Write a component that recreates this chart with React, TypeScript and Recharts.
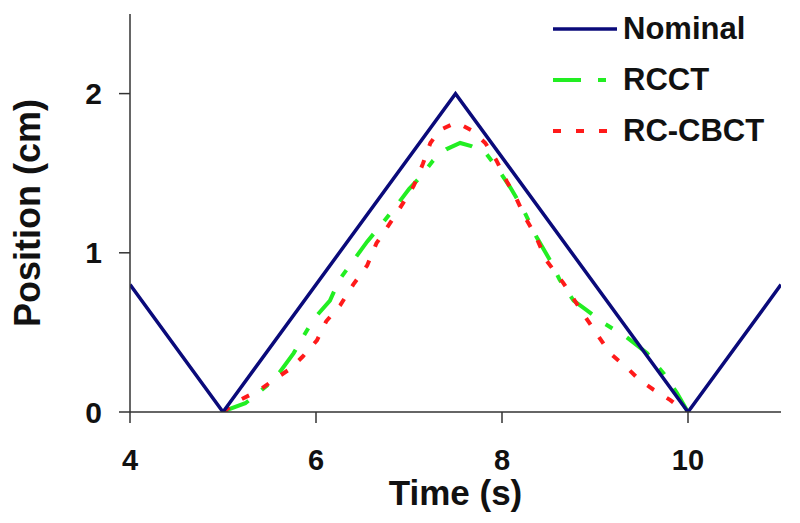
import React from 'react';
import { LineChart, Line, XAxis, YAxis, Legend } from 'recharts';

const nominalT = [4, 5, 7.5, 10, 11];
const nominalY = [0.8, 0, 2, 0, 0.8];

const rcctT = [5.0, 5.03, 5.24, 5.36, 5.5, 5.61, 5.76, 5.86, 5.97, 6.15, 6.25, 6.4, 6.55, 6.72, 6.87, 7.0, 7.12, 7.26, 7.4, 7.55, 7.67, 7.82, 7.94, 8.09, 8.23, 8.37, 8.52, 8.62, 8.77, 8.91, 9.09, 9.34, 9.56, 9.74, 9.88, 9.99, 10.0];
const rcctY = [0, 0.01, 0.055, 0.11, 0.18, 0.25, 0.37, 0.47, 0.58, 0.7, 0.83, 0.95, 1.07, 1.19, 1.3, 1.4, 1.475, 1.58, 1.65, 1.69, 1.67, 1.63, 1.54, 1.41, 1.27, 1.1, 0.95, 0.83, 0.7, 0.64, 0.56, 0.47, 0.37, 0.24, 0.12, 0.01, 0];

const cbctT = [5.0, 5.18, 5.4, 5.54, 5.72, 5.86, 6.01, 6.11, 6.26, 6.4, 6.55, 6.65, 6.87, 7.05, 7.15, 7.23, 7.33, 7.51, 7.67, 7.82, 7.94, 8.05, 8.14, 8.25, 8.35, 8.48, 8.66, 8.87, 9.02, 9.16, 9.34, 9.48, 9.63, 9.81, 9.95, 10.0];
const cbctY = [0, 0.075, 0.14, 0.2, 0.27, 0.35, 0.45, 0.57, 0.67, 0.8, 0.92, 1.06, 1.25, 1.42, 1.56, 1.69, 1.77, 1.82, 1.77, 1.69, 1.58, 1.45, 1.36, 1.22, 1.12, 0.95, 0.81, 0.62, 0.49, 0.37, 0.28, 0.2, 0.14, 0.075, 0.01, 0];

const xTicks = [4, 6, 8, 10];
const yTicks = [0, 1, 2];

const toRows = (t: number[], v: number[]) => t.map((x, i) => ({ x, y: v[i] }));
const nominalData = toRows(nominalT, nominalY);
const rcctData = toRows(rcctT, rcctY);
const cbctData = toRows(cbctT, cbctY);

const FONT = '"Liberation Sans", Arial, sans-serif';
const NAVY = '#0a0a7a';
const GREEN = '#22ee22';
const RED = '#ff1a1a';

const series = [
  { name: 'Nominal', color: NAVY, dash: undefined as string | undefined, width: 3.5 },
  { name: 'RCCT', color: GREEN, dash: '28 17 8 17', width: 4 },
  { name: 'RC-CBCT', color: RED, dash: '8 15', width: 4 },
];

const LegendContent = () => (
  <div style={{ fontFamily: FONT, fontWeight: 'bold', fontSize: 31, color: '#111' }}>
    {series.map((s) => (
      <div key={s.name} style={{ display: 'flex', alignItems: 'center', height: 51 }}>
        <svg width={66} height={10} style={{ display: 'block' }}>
          <line x1={1} y1={5} x2={65} y2={5} stroke={s.color} strokeWidth={s.width} strokeDasharray={s.dash} />
        </svg>
        <span style={{ marginLeft: 5 }}>{s.name}</span>
      </div>
    ))}
  </div>
);

const YLabel = (props: any) => {
  const vb = props.viewBox || {};
  const cx = vb.x + 27;
  const cy = vb.y + vb.height / 2;
  return (
    <text
      x={cx}
      y={cy}
      transform={`rotate(-90, ${cx}, ${cy})`}
      textAnchor="middle"
      dominantBaseline="central"
      style={{ fontFamily: FONT, fontWeight: 'bold', fontSize: 36, fill: '#111' }}
    >
      Position (cm)
    </text>
  );
};

const XLabel = (props: any) => {
  const vb = props.viewBox || {};
  const cx = vb.x + vb.width / 2;
  return (
    <text
      x={cx}
      y={vb.y + 93}
      textAnchor="middle"
      style={{ fontFamily: FONT, fontWeight: 'bold', fontSize: 35, fill: '#111' }}
    >
      Time (s)
    </text>
  );
};

export default function App() {
  return (
    <div style={{ position: 'absolute', left: 0, top: 0, width: 800, height: 523, background: '#fff' }}>
      <LineChart width={800} height={523} margin={{ top: 14, right: 19, left: 0, bottom: 0 }}>
        <XAxis
          dataKey="x"
          type="number"
          domain={[4, 11]}
          ticks={xTicks}
          allowDataOverflow
          height={111}
          tickSize={11}
          tickMargin={26}
          stroke="#333"
          strokeWidth={1.5}
          tick={{ fontFamily: FONT, fontWeight: 'bold', fontSize: 29, fill: '#111' }}
          label={<XLabel />}
        />
        <YAxis
          type="number"
          domain={[0, 2.5]}
          ticks={yTicks}
          allowDataOverflow
          width={130}
          tickSize={11}
          tickMargin={17}
          stroke="#333"
          strokeWidth={1.5}
          tick={{ fontFamily: FONT, fontWeight: 'bold', fontSize: 30, fill: '#111' }}
          label={<YLabel />}
        />
        <Legend
          verticalAlign="middle"
          align="center"
          layout="vertical"
          content={<LegendContent />}
          wrapperStyle={{ position: 'absolute', left: 552, top: 3, width: 248 }}
        />
        <Line
          data={rcctData}
          dataKey="y"
          name="RCCT"
          type="linear"
          stroke={GREEN}
          strokeWidth={4}
          strokeDasharray="28 17 8 17"
          dot={false}
          isAnimationActive={false}
        />
        <Line
          data={cbctData}
          dataKey="y"
          name="RC-CBCT"
          type="linear"
          stroke={RED}
          strokeWidth={4}
          strokeDasharray="8 15"
          dot={false}
          isAnimationActive={false}
        />
        <Line
          data={nominalData}
          dataKey="y"
          name="Nominal"
          type="linear"
          stroke={NAVY}
          strokeWidth={3.5}
          dot={false}
          isAnimationActive={false}
        />
      </LineChart>
    </div>
  );
}
